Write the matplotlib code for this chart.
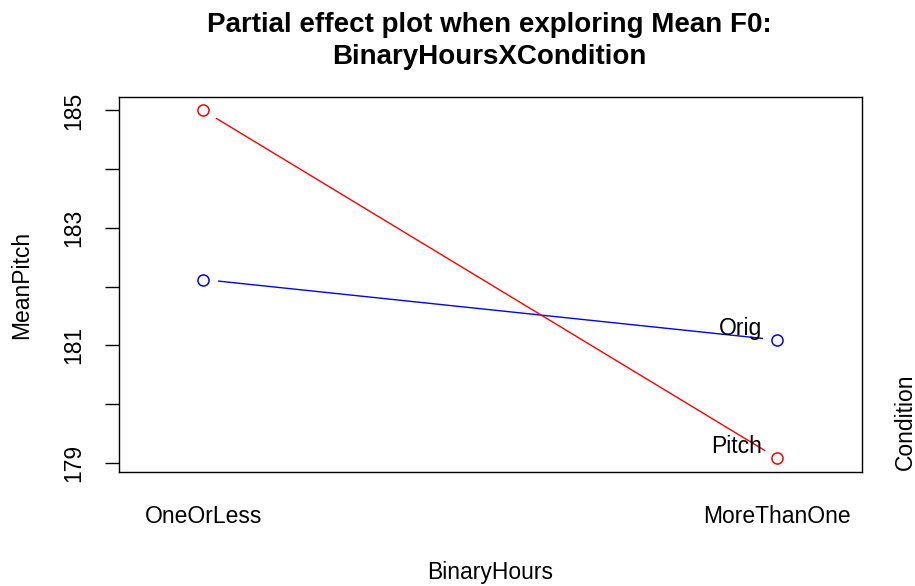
import matplotlib
matplotlib.use("Agg")
import matplotlib.pyplot as plt

# levels of BinaryHours and the Condition traces
hours = ["OneOrLess", "MoreThanOne"]
conditions = ["Orig", "Pitch"]
mean_pitch = {
    "Orig": [182.12, 181.09],
    "Pitch": [185.0, 179.08],
}
colors = {"Orig": "blue", "Pitch": "red"}
yticks = [179, 180, 181, 182, 183, 184, 185]
ytick_labels = ["179", "", "181", "", "183", "", "185"]

plt.rcParams["font.family"] = ["Liberation Sans", "DejaVu Sans"]

W, H = 915, 586
fig = plt.figure(figsize=(W / 100, H / 100), dpi=100)
ax = fig.add_axes([119 / W, (H - 472) / H, (862 - 119) / W, (472 - 97) / H])

x = [1, 2]
for cond in conditions:
    y = mean_pitch[cond]
    ax.plot(x, y, color=colors[cond], linewidth=1.0, zorder=2)
    # white disc gives the R type="b" gap around each point
    ax.plot(x, y, linestyle="none", marker="o", markersize=21,
            markerfacecolor="white", markeredgecolor="none", zorder=3)
    ax.plot(x, y, linestyle="none", marker="o", markersize=8,
            markerfacecolor="none", markeredgecolor=colors[cond],
            markeredgewidth=1.1, zorder=4)

# legend text as in interaction.plot
ax.text(1.974, 181.28, "Orig", ha="right", va="center", fontsize=16.5, zorder=5)
ax.text(1.974, 179.27, "Pitch", ha="right", va="center", fontsize=16.5, zorder=5)

ax.set_xlim(0.853, 2.148)
ax.set_ylim(178.84, 185.23)
ax.set_xticks(x)
ax.set_xticklabels(hours, fontsize=16.5)
ax.tick_params(axis="x", length=0, pad=24)
ax.set_yticks(yticks)
ax.set_yticklabels(ytick_labels, fontsize=16.5, rotation=90, va="center")
ax.tick_params(axis="y", length=10, width=1.0, pad=14)
for s in ax.spines.values():
    s.set_linewidth(1.0)
    s.set_zorder(6)

fig.text(489 / W, 1 - 25 / H, "Partial effect plot when exploring Mean F0:",
         ha="center", va="center", fontsize=20, fontweight="bold")
fig.text(489 / W, 1 - 57 / H, "BinaryHoursXCondition",
         ha="center", va="center", fontsize=20, fontweight="bold")
fig.text(490 / W, 1 - 572 / H, "BinaryHours", ha="center", va="center", fontsize=16.5)
fig.text(22 / W, 1 - 285 / H, "MeanPitch", ha="center", va="center",
         rotation=90, fontsize=16.5)
fig.text(905 / W, 1 - 422 / H, "Condition", ha="center", va="center",
         rotation=90, fontsize=16.5)

fig.savefig("out.png", dpi=100)
